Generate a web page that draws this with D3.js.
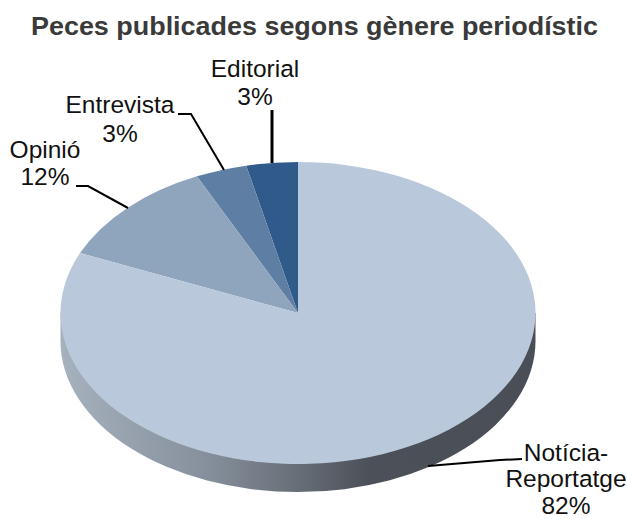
<!DOCTYPE html>
<html>
<head>
<meta charset="utf-8">
<script src="https://cdn.jsdelivr.net/npm/d3@7"></script>
<style>
body { margin: 0; background: #fff; }
text { font-family: "Liberation Sans", Arial, sans-serif; fill: #111; }
</style>
</head>
<body>
<svg width="627" height="519"></svg>
<script>
const title = "Peces publicades segons gènere periodístic";
const categories = ["Editorial", "Entrevista", "Opinió", "Notícia-Reportatge"];
const shares = [3.5, 3.5, 11.5, 81.5];
const labelValues = [3, 3, 12, 82];
const colors = ["#2f5a8a", "#5e7fa3", "#8ea5bd", "#b9c8da"];

const svg = d3.select("svg");
const cx = 298, cy = 313, rx = 237.5, ry = 151, depth = 28;

const grad = svg.append("defs").append("linearGradient").attr("id", "side");
[[0, "#a5b1bd"], [0.3, "#87919d"], [0.5, "#676e77"], [0.65, "#4c5058"], [1, "#4a4e56"]].forEach(s => {
    grad.append("stop").attr("offset", s[0]).attr("stop-color", s[1]);
});

// draw everything on a circle and squash it to get the tilted pie
const g = svg.append("g").attr("transform", `translate(${cx},${cy}) scale(1,${ry / rx})`);
const depthY = depth * rx / ry;

const side = d3.path();
side.moveTo(-rx, 0);
side.lineTo(-rx, depthY);
side.arc(0, depthY, rx, Math.PI, 0, true);
side.lineTo(rx, 0);
side.closePath();
g.append("path").attr("d", side.toString()).attr("fill", "url(#side)");

// Editorial sits just left of 12 o'clock, the rest follow anticlockwise
const pie = d3.pie().sort(null).startAngle(0).endAngle(-2 * Math.PI);
const arc = d3.arc().innerRadius(0).outerRadius(rx);
g.selectAll("path.slice").data(pie(shares)).join("path")
    .attr("class", "slice")
    .attr("d", arc)
    .attr("fill", (d, i) => colors[i]);

svg.append("text")
    .attr("x", 31).attr("y", 35)
    .attr("font-weight", "bold")
    .attr("font-size", 25)
    .attr("textLength", 567)
    .attr("lengthAdjust", "spacingAndGlyphs")
    .style("fill", "#3a3a3a")
    .text(title);

const labels = [
    { x: 255, y: 77, step: 28, w: 3, leader: [[272, 110], [272, 163]] },
    { x: 120, y: 113, step: 29, w: 2, leader: [[178, 114], [191, 114], [224, 170]] },
    { x: 45, y: 158, step: 27, w: 2, leader: [[76, 186], [88, 186], [128, 208]] },
    { x: 566, y: 461, step: 26.3, w: 2, leader: [[522, 459], [500, 460], [428, 466]] }
];
const line = d3.line();
labels.forEach((l, i) => {
    const t = svg.append("text").attr("text-anchor", "middle").attr("font-size", 24.5);
    // the long name wraps after its hyphen
    const rows = categories[i].replace("-", "-\n").split("\n").concat([labelValues[i] + "%"]);
    rows.forEach((s, k) => {
        t.append("tspan").attr("x", l.x).attr("y", l.y + k * l.step).text(s);
    });
    svg.append("path").attr("d", line(l.leader)).attr("fill", "none")
        .attr("stroke", "#000").attr("stroke-width", l.w);
});
</script>
</body>
</html>
